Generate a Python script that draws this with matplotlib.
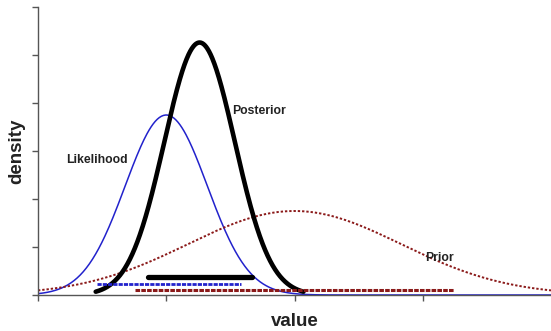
import numpy as np
import matplotlib
matplotlib.use("Agg")
import matplotlib.pyplot as plt

plt.rcParams['font.family'] = ['Liberation Sans', 'DejaVu Sans']

# Curve parameters (normal-shaped densities)
curve_names = ["Likelihood", "Posterior", "Prior"]
curve_means = [1.0, 1.26, 2.0]
curve_sds = [0.32, 0.275, 0.83]
curve_peaks = [3.75, 5.26, 1.75]
curve_ranges = [(0.0, 4.0), (0.45, 2.07), (0.0, 4.0)]

# Interval bars: (start, end, height)
interval_starts = [0.46, 0.86, 0.76]
interval_ends = [1.58, 1.67, 3.24]
interval_levels = [0.23, 0.375, 0.10]

# Label positions
label_x = [0.70, 1.51, 3.02]
label_y = [2.81, 3.83, 0.77]
label_ha = ["right", "left", "left"]

colors = ["#2222cc", "#000000", "#8b1a1a"]
widths = [1.1, 3.3, 1.4]
styles = ["-", "-", (0, (1.2, 1.0))]
bar_widths = [2.0, 3.8, 2.2]
bar_styles = [(0, (1.5, 0.4)), "-", (0, (1.5, 0.4))]

fig = plt.figure(figsize=(5.51, 3.31), dpi=100)
ax = fig.add_axes([38/551, 36/331, 1 - 38/551, (295-7)/331])

for i in range(3):
    x = np.linspace(curve_ranges[i][0], curve_ranges[i][1], 500)
    y = curve_peaks[i] * np.exp(-(x - curve_means[i])**2 / (2 * curve_sds[i]**2))
    ax.plot(x, y, color=colors[i], lw=widths[i], ls=styles[i],
            solid_capstyle='round', zorder=3 if i == 1 else 2)
    ax.plot([interval_starts[i], interval_ends[i]], [interval_levels[i]]*2,
            color=colors[i], lw=bar_widths[i], ls=bar_styles[i],
            solid_capstyle='round', zorder=4)
    ax.text(label_x[i], label_y[i], curve_names[i], ha=label_ha[i], va='center',
            fontsize=8.8, fontweight='bold', color='#222222', zorder=5)

ax.set_xlim(0, 4)
ax.set_ylim(0, 6)
ax.set_xticks([0, 1, 2, 3])
ax.set_yticks([0, 1, 2, 3, 4, 5, 6])
ax.set_xticklabels([])
ax.set_yticklabels([])
for s in ['top', 'right']:
    ax.spines[s].set_visible(False)
for s in ['left', 'bottom']:
    ax.spines[s].set_color('#555555')
    ax.spines[s].set_linewidth(1.0)
ax.tick_params(direction='out', length=4, width=1.0, color='#555555')

fig.text(295/551, 1 - 322/331, "value", ha='center', va='center',
         fontsize=13.5, fontweight='bold', color='#222222')
fig.text(17/551, 1 - 151/331, "density", ha='center', va='center', rotation=90,
         fontsize=13.5, fontweight='bold', color='#222222')

fig.savefig("out.png", dpi=100)
